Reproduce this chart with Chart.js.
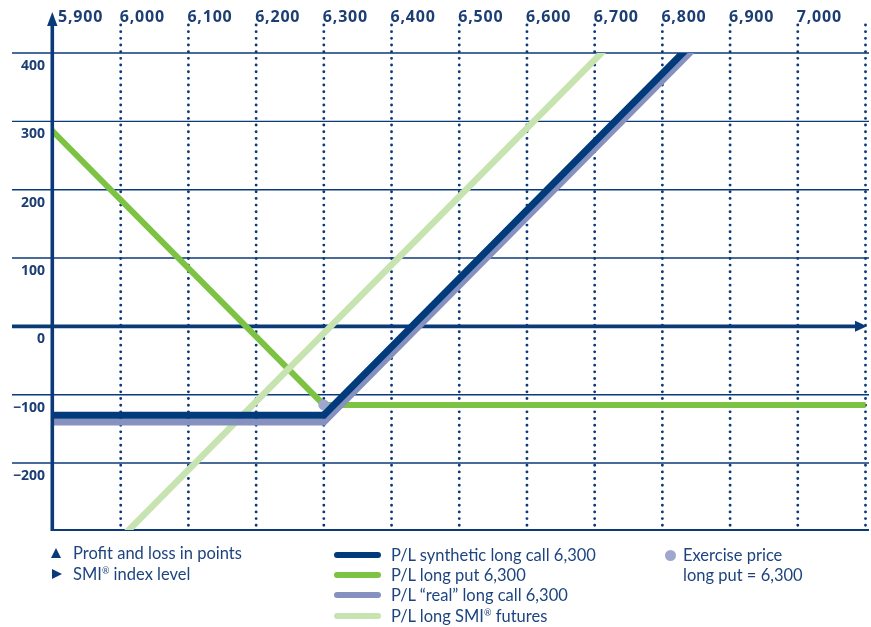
<!DOCTYPE html>
<html>
<head>
<meta charset="utf-8">
<script src="https://cdn.jsdelivr.net/npm/chart.js@4.4.1/dist/chart.umd.min.js"></script>
<style>
body{margin:0;background:#fff;}
#contenedor{position:relative;width:871px;height:627px;overflow:hidden;}
#grafica-pl{position:absolute;left:0;top:0;}
.leyenda{position:absolute;font-family:Lato,'Open Sans',sans-serif;font-size:16.5px;color:#1d4480;white-space:nowrap;line-height:20px;}
.leyenda sup{font-size:9px;line-height:0;vertical-align:6px;}
.muestra{position:absolute;width:47px;height:6px;border-radius:3px;}
</style>
</head>
<body>
<div id="contenedor">
  <canvas id="grafica-pl" width="871" height="627"></canvas>

  <!-- leyenda izquierda -->
  <div style="position:absolute;left:51px;top:548px;width:0;height:0;border-left:5px solid transparent;border-right:5px solid transparent;border-bottom:10px solid #0b3a78;"></div>
  <div class="leyenda" style="left:73px;top:543px;">Profit and loss in points</div>
  <div style="position:absolute;left:52px;top:569px;width:0;height:0;border-top:5px solid transparent;border-bottom:5px solid transparent;border-left:10px solid #0b3a78;"></div>
  <div class="leyenda" style="left:73px;top:564px;">SMI<sup>®</sup> index level</div>

  <!-- leyenda central -->
  <div class="muestra" style="left:334px;top:552px;background:#023b7c;"></div>
  <div class="leyenda" style="left:391px;top:545px;">P/L synthetic long call 6,300</div>
  <div class="muestra" style="left:334px;top:572px;background:#7cc243;"></div>
  <div class="leyenda" style="left:391px;top:565px;">P/L long put 6,300</div>
  <div class="muestra" style="left:334px;top:592px;background:#8791bf;"></div>
  <div class="leyenda" style="left:391px;top:585px;">P/L “real” long call 6,300</div>
  <div class="muestra" style="left:334px;top:613px;background:#c7e3b0;"></div>
  <div class="leyenda" style="left:391px;top:606px;">P/L long SMI<sup>®</sup> futures</div>

  <!-- leyenda derecha -->
  <div style="position:absolute;left:665px;top:550px;width:11px;height:11px;border-radius:50%;background:#a0a7cf;"></div>
  <div class="leyenda" style="left:683px;top:545px;">Exercise price</div>
  <div class="leyenda" style="left:683px;top:565px;">long put = 6,300</div>
</div>

<script>
//------- Datos de la grafica

// eje X: nivel del indice SMI
var valoresIndice = [5900, 6000, 6100, 6200, 6300, 6400, 6500, 6600, 6700, 6800, 6900, 7000, 7100];
var etiquetasIndice = ['5,900', '6,000', '6,100', '6,200', '6,300', '6,400', '6,500', '6,600', '6,700', '6,800', '6,900', '7,000', ''];

// eje Y: perdidas y ganancias en puntos
var valoresPL = [400, 300, 200, 100, 0, -100, -200];
var etiquetasPL = ['400', '300', '200', '100', '0', '\u2212100', '\u2212200'];

// P/L synthetic long call 6,300
var indiceSintetica = [5900, 6300, 6830];
var plSintetica = [-130, -130, 400];

// P/L "real" long call 6,300
var indiceReal = [5900, 6300, 6840];
var plReal = [-140, -140, 400];

// P/L long put 6,300
var indicePut = [5900, 6300, 7100];
var plPut = [285, -115, -115];

// P/L long SMI futures
var indiceFuturos = [6012, 6710];
var plFuturos = [-298, 400];

// precio de ejercicio long put
var indiceEjercicio = [6300];
var plEjercicio = [-115];

var colorEjes = '#0b3a78';
var colorTexto = '#1c3e73';

function armarPuntos(xs, ys){
    return xs.map(function(v, i){ return {x: v, y: ys[i]}; });
}

// plugin que dibuja rejilla, ejes con flechas y etiquetas
var pluginEjes = {
    id: 'ejes',
    beforeDatasetsDraw: function(chart){
        var ctx = chart.ctx;
        var escX = chart.scales.x;
        var escY = chart.scales.y;
        var area = chart.chartArea;
        ctx.save();

        // lineas horizontales
        ctx.strokeStyle = colorEjes;
        ctx.lineWidth = 1.4;
        valoresPL.forEach(function(v){
            if(v === 0) return;
            var py = escY.getPixelForValue(v);
            ctx.beginPath();
            ctx.moveTo(12, py);
            ctx.lineTo(869, py);
            ctx.stroke();
        });

        // lineas verticales punteadas
        ctx.lineWidth = 2.9;
        ctx.lineCap = 'round';
        ctx.setLineDash([0, 6.67]);
        valoresIndice.forEach(function(v){
            if(v === escX.min) return;
            var px = escX.getPixelForValue(v);
            ctx.beginPath();
            ctx.moveTo(px, 25);
            ctx.lineTo(px, area.bottom);
            ctx.stroke();
        });
        ctx.setLineDash([]);
        ctx.lineCap = 'butt';

        // linea de cero con flecha
        var y0 = escY.getPixelForValue(0);
        ctx.lineWidth = 3.6;
        ctx.beginPath();
        ctx.moveTo(12, y0);
        ctx.lineTo(857, y0);
        ctx.stroke();
        ctx.fillStyle = colorEjes;
        ctx.beginPath();
        ctx.moveTo(855, y0 - 5.5);
        ctx.lineTo(867, y0);
        ctx.lineTo(855, y0 + 5.5);
        ctx.closePath();
        ctx.fill();

        // linea inferior
        ctx.lineWidth = 2;
        ctx.beginPath();
        ctx.moveTo(area.left, area.bottom);
        ctx.lineTo(869, area.bottom);
        ctx.stroke();

        // etiquetas eje Y
        ctx.fillStyle = colorTexto;
        ctx.font = 'bold 14px "Open Sans"';
        ctx.textAlign = 'right';
        ctx.textBaseline = 'alphabetic';
        valoresPL.forEach(function(v, i){
            ctx.fillText(etiquetasPL[i], 45, escY.getPixelForValue(v) + 17);
        });

        // etiquetas eje X
        ctx.font = 'bold 16px "Open Sans"';
        ctx.textAlign = 'left';
        ctx.letterSpacing = '0.8px';
        valoresIndice.forEach(function(v, i){
            var px = escX.getPixelForValue(v);
            if(v === escX.min) px += 6;
            ctx.fillText(etiquetasIndice[i], px - 1, 22);
        });
        ctx.letterSpacing = '0px';
        ctx.restore();
    },
    afterDatasetsDraw: function(chart){
        var ctx = chart.ctx;
        var area = chart.chartArea;
        var px = chart.scales.x.getPixelForValue(chart.scales.x.min) - 0.7;
        ctx.save();
        // eje Y con flecha arriba
        ctx.strokeStyle = colorEjes;
        ctx.fillStyle = colorEjes;
        ctx.lineWidth = 3.6;
        ctx.beginPath();
        ctx.moveTo(px, area.bottom + 1);
        ctx.lineTo(px, 24);
        ctx.stroke();
        ctx.beginPath();
        ctx.moveTo(px - 5.2, 26);
        ctx.lineTo(px, 12);
        ctx.lineTo(px + 5.2, 26);
        ctx.closePath();
        ctx.fill();
        ctx.restore();
    }
};

var canvasPL = document.getElementById('grafica-pl').getContext('2d');
var chartPL = new Chart(canvasPL, {
    type: 'line',
    data: {
        datasets: [
            {
                label: 'P/L synthetic long call 6,300',
                data: armarPuntos(indiceSintetica, plSintetica),
                borderColor: '#023b7c',
                borderWidth: 7,
                order: 1
            },
            {
                label: 'P/L "real" long call 6,300',
                data: armarPuntos(indiceReal, plReal),
                borderColor: '#8791bf',
                borderWidth: 7,
                order: 2
            },
            {
                type: 'scatter',
                label: 'Exercise price long put = 6,300',
                data: armarPuntos(indiceEjercicio, plEjercicio),
                pointRadius: 5.5,
                pointBackgroundColor: '#a0a7cf',
                pointBorderWidth: 0,
                showLine: false,
                clip: false,
                order: 3
            },
            {
                label: 'P/L long SMI futures',
                data: armarPuntos(indiceFuturos, plFuturos),
                borderColor: '#c7e3b0',
                borderWidth: 6.5,
                order: 4
            },
            {
                label: 'P/L long put 6,300',
                data: armarPuntos(indicePut, plPut),
                borderColor: '#7cc243',
                borderWidth: 6,
                order: 5
            }
        ]
    },
    options: {
        responsive: false,
        animation: false,
        layout: {padding: {left: 53, right: 2, top: 53, bottom: 97}},
        elements: {
            line: {tension: 0, fill: false, borderCapStyle: 'square', borderJoinStyle: 'miter'},
            point: {radius: 0, hoverRadius: 0}
        },
        datasets: {line: {clip: 0}},
        scales: {
            x: {type: 'linear', min: 5900, max: 7100, display: false},
            y: {type: 'linear', min: -298, max: 400, display: false}
        },
        plugins: {
            legend: {display: false},
            tooltip: {enabled: false}
        }
    },
    plugins: [pluginEjes]
});
</script>
</body>
</html>
